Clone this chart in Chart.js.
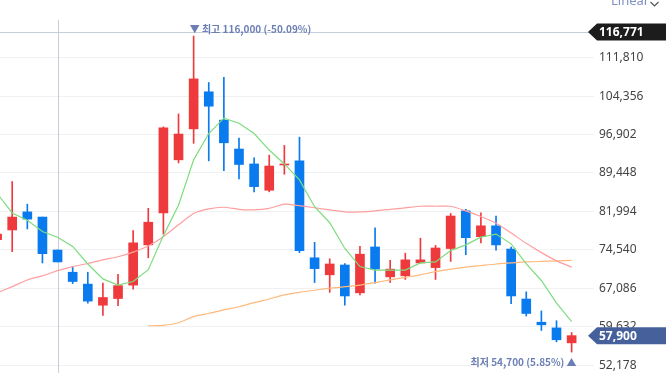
<!DOCTYPE html>
<html>
<head>
<meta charset="utf-8">
<script src="https://cdn.jsdelivr.net/npm/chart.js@4.4.1/dist/chart.umd.min.js"></script>
<style>
  html, body { margin:0; padding:0; background:#fff; }
  #wrap { width:666px; height:373px; position:relative; overflow:hidden; }
</style>
</head>
<body>
<div id="wrap"><canvas id="chart" width="666" height="373"></canvas></div>
<script>
// daily candles, oldest first (first one is cut off at the left edge)
var opens  = [76500, 78400, 81900, 80900, 74500, 70200, 67900, 63800, 65100, 67700,
              75500, 81700, 92000, 98000, 105200, 99700, 94100, 91200, 86100, 91000,
              91800, 73000, 69700, 71600, 66200, 75100, 69300, 69500, 72000, 71100,
              74800, 82100, 77100, 79200, 74700, 65000, 60500, 59400, 56500];
var highs  = [78000, 87800, 83400, 80900, 74500, 71300, 70200, 68100, 69800, 78300,
              82600, 98400, 100900, 116000, 107000, 108000, 96200, 92400, 92900, 94800,
              96400, 76000, 72800, 71900, 75200, 78800, 72500, 73900, 76800, 75400,
              81600, 82400, 81700, 81100, 75100, 66400, 62700, 60800, 58500];
var lows   = [76000, 74200, 78600, 72000, 72200, 68000, 64200, 61800, 63700, 66900,
              73000, 77600, 91400, 95200, 91800, 89900, 88300, 85800, 85800, 89200,
              74000, 68200, 66300, 63800, 65800, 68100, 68200, 68800, 72000, 68800,
              72300, 73600, 75900, 74500, 64100, 61700, 58900, 56700, 54700];
var closes = [77600, 80900, 80500, 73800, 72200, 68400, 64600, 65300, 67600, 75900,
              79900, 98200, 97000, 107700, 102400, 95300, 91100, 86800, 90800, 91100,
              74400, 70900, 71800, 65600, 73700, 70800, 70800, 72600, 72600, 74900,
              81100, 76900, 79200, 75500, 65600, 62200, 60000, 57100, 57900];

// moving averages
var ma5  = [85500, 81700, 80300, 78100, 77000, 75200, 71800, 68900, 67700, 68400,
            70700, 77300, 83200, 92000, 97100, 100100, 99100, 97100, 93900, 91200,
            88100, 82900, 79800, 74800, 71300, 70600, 70600, 70600, 72000, 72200,
            74400, 75500, 77000, 77600, 75700, 71800, 68600, 64200, 60600];
var ma20 = [66200, 67400, 68700, 69500, 70500, 71300, 71900, 72600, 73200, 74100,
            75300, 77100, 79400, 81600, 82500, 82800, 82400, 82300, 82600, 83400,
            83100, 82700, 82300, 81900, 81900, 82100, 82400, 82700, 83000, 83000,
            83000, 82100, 81000, 79700, 77800, 75800, 74000, 72400, 71200];
var ma60Start = 10;
var ma60 = [59800, 59900, 60400, 61600, 62200, 62900, 63500, 64300, 65000, 65800,
            66300, 66700, 67100, 67400, 67700, 68200, 68700, 69200, 69700, 70300,
            70800, 71200, 71500, 71800, 72000, 72200, 72300, 72400, 72500];

var yTicks = [52178, 59632, 67086, 74540, 81994, 89448, 96902, 104356, 111810];
var crossIndex = 4;
var crossPrice = 116771;

var UP = '#EE3A3C';
var DOWN = '#0A7BEF';

function fmt(v) { return Math.round(v).toLocaleString('en-US'); }

var idx = opens.map(function(o, i){ return i; });
var colors = idx.map(function(i){ return closes[i] >= opens[i] ? UP : DOWN; });
var wicks = idx.map(function(i){ return {x: i, y: [lows[i], highs[i]]}; });
var bodies = idx.map(function(i){ return {x: i, y: [opens[i], closes[i]]}; });
var lastPrice = closes[closes.length - 1];

var overlay = {
  id: 'overlay',
  beforeDatasetsDraw: function(chart) {
    var ctx = chart.ctx, xs = chart.scales.x, ys = chart.scales.y;
    var cx = Math.round(xs.getPixelForValue(crossIndex)) + 0.5;
    var cy = Math.round(ys.getPixelForValue(crossPrice)) + 0.5;
    ctx.save();
    ctx.strokeStyle = '#c6cedc';
    ctx.lineWidth = 1;
    ctx.beginPath();
    ctx.moveTo(cx, 20); ctx.lineTo(cx, chart.height);
    ctx.moveTo(0, cy); ctx.lineTo(590, cy);
    ctx.stroke();
    ctx.restore();
  },
  afterDraw: function(chart) {
    var ctx = chart.ctx, xs = chart.scales.x, ys = chart.scales.y;
    ctx.save();

    // max / min labels
    var hi = 0, lo = 0;
    idx.forEach(function(i){
      if (highs[i] > highs[hi]) hi = i;
      if (lows[i] < lows[lo]) lo = i;
    });
    ctx.fillStyle = '#6b7eb5';
    ctx.font = 'bold 10px "Noto Sans CJK KR", sans-serif';
    ctx.textBaseline = 'middle';
    var pctHi = ((lastPrice / highs[hi] - 1) * 100).toFixed(2);
    ctx.textAlign = 'left';
    ctx.fillText('▼ 최고 ' + fmt(highs[hi]) + ' (' + pctHi + '%)',
      xs.getPixelForValue(hi) - 4, ys.getPixelForValue(highs[hi]) - 7);
    var pctLo = ((lastPrice / lows[lo] - 1) * 100).toFixed(2);
    ctx.textAlign = 'right';
    ctx.fillText('최저 ' + fmt(lows[lo]) + ' (' + pctLo + '%) ▲',
      xs.getPixelForValue(lo) + 5, ys.getPixelForValue(lows[lo]) + 10);

    // price tags on the axis
    function tag(price, bg) {
      var py = ys.getPixelForValue(price);
      ctx.fillStyle = bg;
      ctx.beginPath();
      ctx.moveTo(588, py);
      ctx.lineTo(597, py - 8.5);
      ctx.lineTo(666, py - 8.5);
      ctx.lineTo(666, py + 8.5);
      ctx.lineTo(597, py + 8.5);
      ctx.closePath();
      ctx.fill();
      ctx.fillStyle = '#fff';
      ctx.font = 'bold 12px "Noto Sans", sans-serif';
      ctx.textAlign = 'left';
      ctx.textBaseline = 'middle';
      ctx.fillText(fmt(price), 599, py + 0.5);
    }
    tag(crossPrice, '#1c1c1c');
    tag(lastPrice, '#46609c');

    // scale mode switch, cut at the top
    ctx.fillStyle = '#8191c2';
    ctx.font = '13px "Noto Sans", sans-serif';
    ctx.textAlign = 'left';
    ctx.textBaseline = 'alphabetic';
    ctx.fillText('Linear', 611, 5);
    ctx.strokeStyle = '#555';
    ctx.lineWidth = 1.2;
    ctx.beginPath();
    ctx.moveTo(650.5, 2); ctx.lineTo(654.5, 6); ctx.lineTo(658.5, 2);
    ctx.stroke();
    ctx.restore();
  }
};

new Chart(document.getElementById('chart'), {
  type: 'bar',
  data: {
    datasets: [
      { type: 'line', label: 'MA5', data: idx.map(function(i){ return {x: i, y: ma5[i]}; }),
        borderColor: '#7fdc7f', borderWidth: 1.2, pointRadius: 0, tension: 0, order: 0 },
      { type: 'line', label: 'MA20', data: idx.map(function(i){ return {x: i, y: ma20[i]}; }),
        borderColor: '#ff9e9e', borderWidth: 1.2, pointRadius: 0, tension: 0.2, order: 0 },
      { type: 'line', label: 'MA60', data: ma60.map(function(v, j){ return {x: j + ma60Start, y: v}; }),
        borderColor: '#ffb97c', borderWidth: 1.2, pointRadius: 0, tension: 0.2, order: 0 },
      { label: 'body', data: bodies, backgroundColor: colors, barThickness: 9,
        minBarLength: 1, grouped: false, order: 1 },
      { label: 'wick', data: wicks, backgroundColor: colors, barThickness: 1,
        grouped: false, order: 2 }
    ]
  },
  options: {
    responsive: false,
    animation: false,
    layout: { padding: 0 },
    plugins: { legend: { display: false }, tooltip: { enabled: false } },
    scales: {
      x: {
        type: 'linear', display: false, offset: false,
        min: 0.193, max: 39.48
      },
      y: {
        position: 'right',
        min: 50654, max: 123001,
        grid: { color: '#f0f1f3', drawTicks: false },
        border: { display: false },
        afterBuildTicks: function(scale) {
          scale.ticks = yTicks.map(function(v){ return {value: v}; });
        },
        afterFit: function(scale) {
          scale.width = 72;
          scale.paddingTop = 0;
          scale.paddingBottom = 0;
        },
        ticks: {
          padding: 5,
          color: '#444',
          font: { family: '"Noto Sans", sans-serif', size: 12 },
          callback: function(v){ return fmt(v); }
        }
      }
    }
  },
  plugins: [overlay]
});
</script>
</body>
</html>
